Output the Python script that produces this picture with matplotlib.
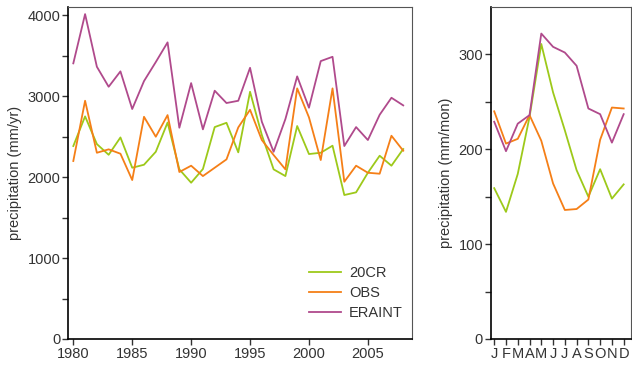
import numpy as np
import matplotlib
matplotlib.use('Agg')
import matplotlib.pyplot as plt

plt.rcParams['font.family'] = ['Liberation Sans', 'DejaVu Sans']

#annual series 1980-2008
years = np.arange(1980, 2009)
cr20_yr = [2383, 2749, 2407, 2275, 2489, 2115, 2152, 2312, 2673, 2095,
           1930, 2099, 2617, 2670, 2305, 3053, 2519, 2095, 2012, 2630,
           2284, 2300, 2387, 1778, 1811, 2053, 2263, 2140, 2346]
obs_yr = [2198, 2942, 2300, 2342, 2288, 1963, 2744, 2498, 2765, 2062,
          2140, 2012, 2115, 2218, 2613, 2831, 2457, 2272, 2095, 3095,
          2737, 2210, 3095, 1942, 2140, 2053, 2041, 2510, 2325]
era_yr = [3404, 4012, 3362, 3115, 3305, 2840, 3185, 3420, 3663, 2609,
          3160, 2589, 3066, 2914, 2942, 3349, 2683, 2312, 2716, 3243,
          2856, 3432, 3485, 2383, 2617, 2457, 2769, 2979, 2885]

#monthly climatology
months = ['J', 'F', 'M', 'A', 'M', 'J', 'J', 'A', 'S', 'O', 'N', 'D']
cr20_mon = [159, 134, 174, 234, 311, 260, 220, 178, 150, 179, 148, 163]
obs_mon = [240, 206, 211, 236, 209, 164, 136, 137, 147, 210, 244, 243]
era_mon = [229, 198, 227, 236, 322, 308, 302, 288, 243, 237, 207, 237]

c_cr = '#9dc91a'
c_obs = '#f57f17'
c_era = '#b04a8c'
tc = '#333333'

fig = plt.figure(figsize=(6.32, 3.70), dpi=100)
ax1 = fig.add_axes([0.1076, 0.0838, 0.5444, 0.8973])
ax2 = fig.add_axes([0.7764, 0.0838, 0.2216, 0.8973])

ax1.plot(years, cr20_yr, color=c_cr, lw=1.3, label='20CR')
ax1.plot(years, obs_yr, color=c_obs, lw=1.3, label='OBS')
ax1.plot(years, era_yr, color=c_era, lw=1.3, label='ERAINT')
ax1.set_xlim(1979.55, 2008.75)
ax1.set_ylim(0, 4100)
ax1.set_xticks(np.arange(1980, 2006, 5))
ax1.set_yticks(np.arange(0, 4001, 500))
ax1.set_yticklabels([str(v) if v % 1000 == 0 else '' for v in range(0, 4001, 500)])
ax1.set_ylabel('precipitation (mm/yr)', fontsize=10.5, color=tc)
leg = ax1.legend(loc='lower right', bbox_to_anchor=(0.99, 0.04), frameon=False,
                 fontsize=10.5, handlelength=2.2, handletextpad=0.55,
                 borderaxespad=0, labelspacing=0.4)
for t in leg.get_texts():
    t.set_color(tc)

x = np.arange(12)
ax2.plot(x, cr20_mon, color=c_cr, lw=1.3)
ax2.plot(x, obs_mon, color=c_obs, lw=1.3)
ax2.plot(x, era_mon, color=c_era, lw=1.3)
ax2.set_xlim(-0.3, 11.6)
ax2.set_ylim(0, 350)
ax2.set_xticks(x)
ax2.set_xticklabels(months)
ax2.set_yticks(np.arange(0, 301, 50))
ax2.set_yticklabels([str(v) if v % 100 == 0 else '' for v in range(0, 301, 50)])
ax2.set_ylabel('precipitation (mm/mon)', fontsize=10.5, color=tc)

for ax in (ax1, ax2):
    ax.tick_params(direction='out', length=4, width=1, colors=tc,
                   labelsize=10.5, pad=1.5)
    ax.spines['left'].set_color('black')
    ax.spines['bottom'].set_color('black')
    ax.spines['left'].set_linewidth(1.2)
    ax.spines['bottom'].set_linewidth(1.2)
    ax.spines['top'].set_color('#555555')
    ax.spines['right'].set_color('#555555')

fig.savefig('out.png', dpi=100)
